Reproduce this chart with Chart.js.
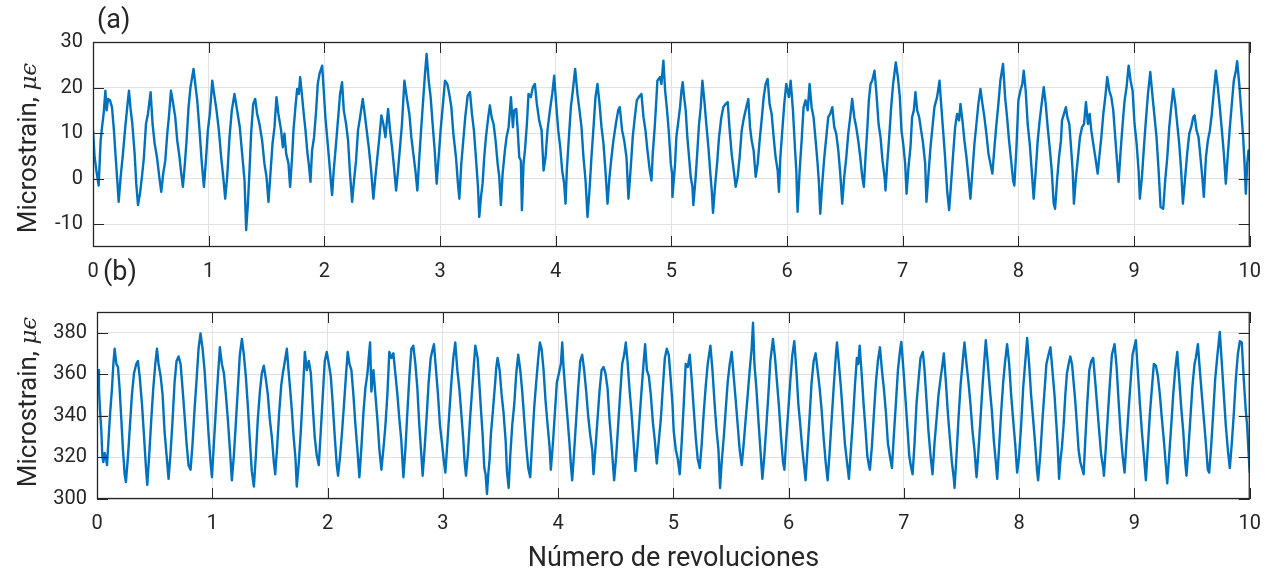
<!DOCTYPE html>
<html><head><meta charset="utf-8">
<script src="https://cdn.jsdelivr.net/npm/chart.js@4.4.1/dist/chart.umd.min.js"></script>
<style>
html,body{margin:0;padding:0;background:#fff;}
#wrap{position:relative;width:1274px;height:575px;overflow:hidden;font-family:Roboto,sans-serif;color:#262626;}
canvas{position:absolute;left:0;}
.lbl{position:absolute;font-size:27px;white-space:nowrap;line-height:1;}
.ylab{position:absolute;font-size:26px;white-space:nowrap;line-height:1;transform:translate(-50%,-50%) rotate(-90deg);}
.ylab i{font-family:'DejaVu Serif',serif;font-size:23px;}
</style></head><body>
<div id="wrap">
<canvas id="ca" width="1274" height="290" style="top:0"></canvas>
<canvas id="cb" width="1274" height="285" style="top:290px"></canvas>
<div class="lbl" style="left:97px;top:6px">(a)</div>
<div class="lbl" style="left:103px;top:258px">(b)</div>
<div class="ylab" style="left:27px;top:148px">Microstrain, <i>μϵ</i></div>
<div class="ylab" style="left:27px;top:402px">Microstrain, <i>μϵ</i></div>
</div>
<script>
// ---- Data: panel (a) ----
const revA = [
0.000,0.014,0.029,0.049,0.066,0.078,0.092,0.107,0.118,0.130,
0.147,0.164,0.181,0.196,0.210,0.222,0.239,0.259,0.279,0.296,
0.311,0.325,0.340,0.360,0.374,0.389,0.406,0.423,0.440,0.458,
0.475,0.498,0.515,0.533,0.553,0.573,0.590,0.607,0.625,0.642,
0.656,0.674,0.691,0.711,0.728,0.748,0.763,0.777,0.792,0.809,
0.826,0.843,0.869,0.884,0.901,0.921,0.941,0.959,0.976,0.993,
1.010,1.031,1.051,1.068,1.088,1.108,1.126,1.143,1.160,1.180,
1.200,1.223,1.246,1.269,1.292,1.310,1.324,1.339,1.353,1.367,
1.385,1.402,1.419,1.439,1.462,1.482,1.500,1.517,1.534,1.552,
1.569,1.586,1.603,1.626,1.641,1.655,1.670,1.690,1.704,1.721,
1.733,1.750,1.765,1.779,1.791,1.808,1.822,1.837,1.854,1.865,
1.880,1.894,1.911,1.929,1.943,1.958,1.981,1.995,2.009,2.024,
2.044,2.058,2.067,2.081,2.101,2.122,2.136,2.153,2.168,2.188,
2.205,2.222,2.240,2.254,2.274,2.291,2.309,2.332,2.349,2.366,
2.384,2.404,2.424,2.441,2.458,2.476,2.493,2.510,2.528,2.551,
2.568,2.585,2.602,2.620,2.637,2.654,2.671,2.692,2.712,2.735,
2.752,2.769,2.787,2.804,2.821,2.838,2.856,2.870,2.884,2.902,
2.919,2.936,2.954,2.971,2.988,3.005,3.023,3.043,3.063,3.080,
3.098,3.115,3.138,3.155,3.167,3.184,3.201,3.218,3.239,3.259,
3.276,3.293,3.310,3.328,3.339,3.354,3.368,3.382,3.397,3.417,
3.431,3.446,3.463,3.480,3.498,3.512,3.526,3.541,3.561,3.575,
3.593,3.613,3.630,3.641,3.659,3.670,3.685,3.699,3.708,3.722,
3.734,3.751,3.765,3.785,3.803,3.820,3.837,3.857,3.878,3.895,
3.912,3.929,3.950,3.970,3.987,4.004,4.022,4.039,4.056,4.073,
4.085,4.096,4.114,4.131,4.148,4.168,4.188,4.206,4.223,4.240,
4.258,4.275,4.292,4.309,4.327,4.344,4.361,4.379,4.396,4.413,
4.430,4.448,4.465,4.482,4.499,4.520,4.540,4.554,4.574,4.592,
4.612,4.629,4.649,4.666,4.684,4.701,4.718,4.741,4.759,4.776,
4.793,4.813,4.828,4.839,4.856,4.868,4.879,4.902,4.914,4.931,
4.946,4.960,4.977,4.995,5.006,5.009,5.023,5.032,5.043,5.061,
5.075,5.087,5.098,5.110,5.124,5.138,5.153,5.167,5.182,5.190,
5.210,5.225,5.239,5.254,5.268,5.285,5.302,5.320,5.337,5.349,
5.360,5.377,5.395,5.412,5.432,5.449,5.469,5.487,5.504,5.521,
5.539,5.556,5.573,5.590,5.608,5.628,5.648,5.665,5.680,5.694,
5.711,5.729,5.746,5.763,5.780,5.798,5.815,5.832,5.849,5.867,
5.884,5.901,5.919,5.930,5.942,5.959,5.976,5.993,6.016,6.031,
6.051,6.068,6.080,6.091,6.109,6.126,6.143,6.160,6.178,6.195,
6.212,6.229,6.247,6.264,6.276,6.287,6.304,6.322,6.339,6.356,
6.373,6.391,6.408,6.425,6.443,6.460,6.477,6.494,6.512,6.529,
6.546,6.563,6.581,6.598,6.615,6.633,6.650,6.664,6.678,6.693,
6.707,6.722,6.736,6.756,6.773,6.791,6.808,6.825,6.843,6.851,
6.866,6.883,6.900,6.917,6.940,6.958,6.975,6.989,7.004,7.021,
7.033,7.050,7.067,7.081,7.096,7.110,7.125,7.142,7.159,7.176,
7.194,7.205,7.223,7.240,7.257,7.274,7.297,7.318,7.332,7.349,
7.366,7.384,7.401,7.418,7.436,7.453,7.470,7.487,7.499,7.516,
7.533,7.551,7.568,7.585,7.603,7.620,7.637,7.654,7.672,7.689,
7.706,7.723,7.741,7.758,7.775,7.793,7.810,7.827,7.844,7.867,
7.885,7.902,7.919,7.937,7.954,7.965,7.983,8.000,8.017,8.034,
8.046,8.063,8.080,8.098,8.115,8.132,8.150,8.167,8.184,8.201,
8.219,8.236,8.253,8.270,8.288,8.305,8.317,8.334,8.351,8.368,
8.377,8.394,8.411,8.423,8.440,8.455,8.469,8.480,8.498,8.515,
8.532,8.550,8.567,8.584,8.601,8.616,8.630,8.647,8.665,8.685,
8.699,8.717,8.734,8.751,8.768,8.786,8.803,8.820,8.837,8.852,
8.866,8.884,8.901,8.918,8.935,8.953,8.970,8.987,9.004,9.022,
9.039,9.050,9.068,9.085,9.102,9.120,9.140,9.160,9.177,9.194,
9.212,9.229,9.252,9.269,9.287,9.304,9.321,9.338,9.356,9.373,
9.390,9.407,9.422,9.442,9.459,9.477,9.494,9.511,9.523,9.540,
9.557,9.574,9.592,9.603,9.621,9.638,9.655,9.672,9.690,9.707,
9.724,9.741,9.759,9.776,9.793,9.811,9.828,9.845,9.862,9.880,
9.891,9.909,9.926,9.943,9.955,9.966,9.978,9.989,10.000];
const strainA = [
10.6,4.7,1.8,-1.5,8.4,11.3,14.2,19.3,15.0,17.5,
17.2,15.7,10.6,4.7,-0.4,-5.1,0.4,5.5,11.3,15.7,
19.3,15.3,12.0,5.5,-1.1,-5.8,-3.3,0.4,4.7,12.0,
14.2,19.0,12.0,7.7,4.7,0.4,-2.9,1.1,4.0,9.9,
13.5,19.3,16.8,13.5,8.4,4.7,1.1,-1.8,2.6,8.4,
15.7,20.1,24.1,20.8,17.2,10.6,3.3,-1.8,4.0,10.6,
14.2,21.5,17.9,15.0,10.6,4.7,0.4,-4.4,0.4,9.1,
15.0,18.6,15.0,11.3,4.7,-0.4,-11.3,-5.5,1.8,9.9,
16.4,17.5,14.2,12.0,8.4,3.3,0.4,-5.1,1.1,7.7,
11.3,17.9,14.2,10.6,6.9,9.9,5.5,3.3,-1.8,4.7,
10.6,15.7,19.7,18.6,22.3,17.9,14.2,10.6,5.5,3.3,
-0.7,6.2,9.1,15.0,20.8,23.0,24.8,19.3,13.5,9.1,
3.3,-1.1,-3.6,1.8,7.7,14.2,18.6,21.2,15.0,12.0,
8.4,1.1,-5.1,-1.1,4.0,10.6,13.5,17.5,14.2,10.6,
6.9,1.8,-4.4,0.4,4.7,9.1,13.9,12.0,9.1,15.3,
10.6,6.9,2.6,-2.6,1.8,6.9,12.0,21.5,17.9,14.2,
9.1,5.5,1.8,-2.6,4.7,11.3,17.9,23.0,27.4,21.5,
17.9,12.0,6.2,-1.1,4.7,10.6,15.7,21.5,20.8,18.6,
15.7,9.9,4.7,-1.1,-4.4,3.3,8.4,13.5,18.2,19.0,
14.2,10.6,4.7,-1.8,-8.4,-4.0,-1.1,4.7,9.1,13.5,
16.1,13.5,12.0,8.4,3.3,0.4,-5.8,1.1,6.2,9.1,
11.3,17.9,11.3,15.0,15.3,11.3,4.7,4.0,-6.9,3.3,
6.2,12.0,18.6,17.9,20.1,20.8,16.4,12.8,10.6,1.8,
4.7,10.6,15.0,18.6,22.6,16.4,10.6,6.9,1.8,-1.1,
-5.5,1.8,9.1,15.7,19.3,24.1,18.6,15.0,11.3,4.7,
-0.4,-8.4,-2.6,4.7,11.3,17.9,20.8,16.4,11.3,7.7,
1.8,-5.5,0.4,4.7,8.4,12.0,15.0,15.7,10.6,8.4,
4.7,-4.4,2.6,9.1,13.5,17.2,17.9,18.6,13.5,10.6,
6.2,1.8,-0.4,5.5,11.3,16.4,21.5,22.3,20.8,25.9,
19.3,15.7,10.6,3.3,1.1,-4.0,0.4,3.3,9.1,12.8,
15.7,19.3,21.2,17.9,15.0,9.1,4.7,0.4,-1.8,-5.8,
0.4,6.2,12.0,15.7,21.5,17.2,12.0,6.9,1.1,-2.6,
-7.5,-1.8,3.3,9.1,13.5,15.7,16.4,16.8,10.6,5.5,
1.8,-1.8,0.4,4.7,10.6,13.5,15.7,17.5,11.3,8.4,
6.2,0.4,3.3,8.4,12.8,17.9,20.8,21.9,16.4,14.2,
9.1,4.7,1.8,-2.9,4.7,10.6,16.4,20.8,17.9,21.5,
15.0,6.9,1.8,-7.3,1.8,8.4,15.7,17.2,15.0,20.8,
15.7,13.5,8.4,3.3,-1.1,-7.7,-1.1,4.7,9.1,13.5,
14.2,15.7,11.3,9.9,6.2,1.1,-5.5,0.4,4.7,9.9,
13.5,17.5,13.5,11.3,8.4,4.7,0.4,-1.8,4.7,10.6,
17.2,20.8,21.5,23.7,18.6,12.0,9.1,4.0,0.4,-2.6,
3.3,9.1,15.7,20.8,25.5,22.3,17.9,10.6,7.7,3.3,
-3.3,2.6,6.9,13.5,15.0,19.0,15.0,13.5,10.6,7.7,
3.3,-5.1,1.1,6.9,11.3,15.7,17.9,21.5,16.4,10.6,
4.7,-2.6,-6.9,-1.1,5.5,11.3,14.2,12.8,16.4,12.8,
8.4,4.7,0.4,-4.4,1.8,7.7,12.0,16.4,19.7,16.4,
13.5,9.9,5.5,3.3,1.1,6.9,12.0,16.4,21.5,25.2,
17.9,13.5,8.4,4.0,-0.4,-1.5,6.9,17.2,19.3,20.8,
23.7,19.3,12.0,7.7,1.8,-4.4,1.8,8.4,12.8,16.4,
20.1,16.4,11.3,6.9,1.8,-5.5,-6.6,-0.4,4.7,8.4,
12.8,14.2,15.7,13.5,12.0,6.9,1.8,-5.5,0.4,4.7,
9.1,11.3,12.0,16.8,12.0,14.2,10.6,7.7,4.7,1.1,
4.7,9.1,14.2,17.9,22.3,19.3,17.9,15.0,9.1,4.0,
-0.7,6.2,12.0,17.2,20.1,24.8,21.5,19.3,12.0,7.7,
1.8,-4.4,0.4,6.9,12.8,18.6,23.4,17.9,13.5,9.1,
1.8,-6.2,-6.6,-0.4,4.7,11.3,15.7,19.7,16.4,12.0,
7.7,1.8,-5.5,0.4,5.5,9.9,11.3,13.5,13.9,10.6,
9.1,4.7,-0.4,-4.0,4.7,8.4,10.6,14.2,19.3,23.7,
20.1,15.7,10.6,5.5,-1.1,5.5,11.3,16.4,21.5,23.7,
25.8,20.8,15.0,9.1,3.3,-3.3,3.3,6.2,4.0];

// ---- Data: panel (b) ----
const revB = [
0.000,0.009,0.017,0.026,0.038,0.046,0.055,0.066,0.078,0.087,
0.101,0.116,0.130,0.142,0.153,0.168,0.182,0.196,0.211,0.225,
0.240,0.251,0.269,0.286,0.303,0.321,0.341,0.355,0.370,0.390,
0.407,0.425,0.436,0.454,0.471,0.488,0.506,0.520,0.534,0.552,
0.569,0.586,0.604,0.621,0.638,0.656,0.673,0.690,0.708,0.725,
0.742,0.760,0.777,0.794,0.812,0.829,0.846,0.864,0.881,0.898,
0.916,0.933,0.950,0.968,0.985,0.997,1.014,1.031,1.049,1.066,
1.083,1.101,1.118,1.135,1.153,1.170,1.187,1.205,1.222,1.239,
1.257,1.274,1.291,1.309,1.326,1.343,1.361,1.378,1.395,1.413,
1.430,1.447,1.465,1.482,1.499,1.517,1.534,1.546,1.563,1.580,
1.598,1.612,1.626,1.647,1.661,1.675,1.690,1.704,1.722,1.733,
1.751,1.768,1.785,1.803,1.820,1.837,1.855,1.872,1.889,1.907,
1.924,1.941,1.959,1.976,1.993,2.011,2.028,2.045,2.063,2.080,
2.091,2.109,2.126,2.143,2.161,2.175,2.190,2.207,2.224,2.242,
2.259,2.276,2.294,2.311,2.328,2.346,2.357,2.369,2.380,2.398,
2.415,2.432,2.450,2.467,2.484,2.502,2.519,2.536,2.554,2.571,
2.588,2.606,2.623,2.640,2.658,2.675,2.692,2.710,2.727,2.744,
2.762,2.779,2.796,2.814,2.825,2.843,2.860,2.877,2.895,2.906,
2.923,2.941,2.958,2.975,2.993,3.010,3.022,3.039,3.056,3.074,
3.091,3.108,3.126,3.143,3.160,3.178,3.189,3.201,3.218,3.236,
3.253,3.270,3.282,3.302,3.316,3.331,3.345,3.360,3.371,3.383,
3.394,3.406,3.417,3.435,3.452,3.464,3.475,3.493,3.510,3.527,
3.545,3.556,3.571,3.585,3.602,3.620,3.637,3.654,3.672,3.689,
3.706,3.724,3.741,3.758,3.776,3.793,3.810,3.828,3.842,3.857,
3.874,3.891,3.909,3.926,3.937,3.955,3.972,3.989,4.007,4.024,
4.036,4.047,4.065,4.082,4.099,4.111,4.122,4.140,4.157,4.174,
4.192,4.209,4.226,4.244,4.261,4.278,4.296,4.307,4.325,4.342,
4.359,4.377,4.394,4.411,4.429,4.446,4.463,4.486,4.504,4.521,
4.538,4.556,4.573,4.587,4.602,4.619,4.637,4.654,4.671,4.689,
4.706,4.723,4.741,4.755,4.770,4.787,4.804,4.822,4.839,4.856,
4.874,4.891,4.908,4.926,4.943,4.960,4.977,4.992,5.003,5.021,
5.038,5.055,5.073,5.090,5.107,5.125,5.142,5.159,5.177,5.194,
5.211,5.229,5.246,5.263,5.281,5.298,5.321,5.339,5.356,5.373,
5.391,5.405,5.419,5.437,5.454,5.471,5.489,5.506,5.523,5.541,
5.558,5.575,5.593,5.610,5.627,5.645,5.662,5.679,5.691,5.703,
5.720,5.737,5.755,5.772,5.789,5.807,5.824,5.841,5.864,5.882,
5.899,5.916,5.934,5.951,5.963,5.980,5.997,6.015,6.032,6.049,
6.067,6.084,6.101,6.119,6.136,6.147,6.165,6.182,6.199,6.217,
6.234,6.251,6.269,6.286,6.303,6.321,6.338,6.355,6.373,6.390,
6.408,6.419,6.436,6.454,6.471,6.488,6.506,6.523,6.540,6.558,
6.575,6.592,6.604,6.616,6.633,6.650,6.668,6.682,6.696,6.705,
6.722,6.740,6.757,6.774,6.792,6.809,6.826,6.844,6.861,6.878,
6.896,6.913,6.930,6.948,6.965,6.977,6.994,7.011,7.029,7.046,
7.063,7.075,7.092,7.109,7.127,7.144,7.164,7.179,7.196,7.213,
7.231,7.248,7.265,7.283,7.300,7.317,7.335,7.346,7.364,7.381,
7.398,7.416,7.433,7.439,7.456,7.473,7.491,7.508,7.525,7.543,
7.560,7.577,7.595,7.612,7.630,7.647,7.664,7.682,7.699,7.710,
7.728,7.745,7.762,7.780,7.797,7.809,7.826,7.843,7.861,7.878,
7.895,7.913,7.930,7.947,7.965,7.982,7.999,8.017,8.034,8.051,
8.069,8.086,8.103,8.121,8.138,8.155,8.164,8.184,8.202,8.219,
8.236,8.254,8.271,8.288,8.306,8.323,8.334,8.346,8.356,8.371,
8.385,8.400,8.414,8.429,8.443,8.458,8.472,8.486,8.501,8.515,
8.530,8.544,8.559,8.573,8.590,8.608,8.625,8.642,8.660,8.677,
8.694,8.712,8.729,8.735,8.752,8.770,8.787,8.804,8.827,8.845,
8.862,8.879,8.897,8.914,8.931,8.949,8.966,8.983,9.012,9.030,
9.047,9.064,9.082,9.099,9.116,9.134,9.151,9.168,9.186,9.203,
9.220,9.238,9.255,9.272,9.284,9.301,9.319,9.336,9.353,9.371,
9.388,9.405,9.423,9.440,9.451,9.469,9.486,9.503,9.521,9.532,
9.550,9.567,9.584,9.602,9.619,9.636,9.648,9.665,9.683,9.700,
9.717,9.740,9.758,9.775,9.792,9.810,9.827,9.844,9.862,9.879,
9.896,9.914,9.931,9.948,9.965,9.977,9.988,10.000];
const strainB = [
360.5,362.0,353.2,342.9,332.5,320.8,317.8,322.2,319.3,316.3,
329.6,342.9,353.2,365.0,372.3,365.0,363.5,353.2,338.4,323.7,
311.9,308.2,320.8,335.5,350.2,360.5,365.0,366.4,359.1,345.8,
331.1,314.9,306.8,322.2,338.4,353.2,365.0,372.3,365.0,359.1,
350.2,332.5,320.8,309.7,322.2,338.4,356.1,366.4,368.6,365.0,
353.2,339.9,326.7,316.3,314.1,326.7,342.9,357.6,372.3,379.7,
372.3,362.0,347.3,331.1,317.8,310.5,326.7,342.9,359.1,373.0,
365.0,360.5,350.2,338.4,323.7,309.0,320.8,337.0,353.2,369.4,
377.0,369.4,359.1,344.3,328.1,313.4,306.0,320.8,338.4,351.7,
360.5,364.2,357.6,350.2,338.4,329.6,317.8,311.9,325.2,341.4,
354.6,360.5,365.0,372.3,362.0,353.2,342.9,331.1,319.3,306.0,
317.8,332.5,350.2,370.8,362.0,366.4,360.5,344.3,329.6,320.8,
316.3,332.5,350.2,366.4,370.8,365.0,359.1,345.8,329.6,316.3,
311.2,320.8,332.5,345.8,360.5,370.8,365.0,362.0,350.2,335.5,
323.7,310.5,325.2,341.4,353.2,360.5,367.9,375.3,351.7,362.0,
350.2,338.4,323.7,314.1,323.7,335.5,350.2,370.8,367.9,370.1,
360.5,350.2,338.4,328.1,310.5,323.7,341.4,359.1,372.3,373.8,
365.0,353.2,335.5,320.8,311.2,325.2,339.9,356.1,367.9,370.8,
374.5,362.0,350.2,335.5,326.7,317.8,312.7,326.7,341.4,356.1,
367.9,375.3,362.0,353.2,341.4,328.1,317.8,311.2,322.2,338.4,
351.7,365.0,373.8,367.9,356.1,342.9,331.1,314.9,311.9,302.4,
311.9,319.3,331.1,342.9,354.6,363.5,367.9,362.0,350.2,341.4,
328.1,313.4,305.3,320.8,335.5,345.8,360.5,369.4,362.0,351.7,
338.4,325.2,314.9,310.5,328.1,344.3,356.1,367.9,375.3,372.3,
362.0,347.3,335.5,325.2,314.1,326.7,341.4,356.1,360.5,365.0,
375.3,363.5,350.2,338.4,326.7,316.3,309.0,323.7,338.4,353.2,
366.4,369.4,362.0,351.7,339.9,331.1,323.7,311.9,325.2,338.4,
351.7,362.0,363.5,360.5,353.2,338.4,326.7,309.0,320.8,335.5,
350.2,365.0,369.4,375.3,366.4,353.2,341.4,328.1,313.4,325.2,
338.4,351.7,365.0,374.5,362.0,359.1,350.2,337.0,328.1,317.1,
328.1,338.4,353.2,367.9,372.3,369.4,357.6,345.8,332.5,323.7,
319.3,311.9,328.1,345.8,365.0,363.5,369.4,357.6,342.9,329.6,
319.3,314.9,326.7,341.4,354.6,365.0,373.8,362.0,347.3,334.0,
323.7,305.3,317.8,329.6,342.9,356.1,365.0,370.8,359.1,347.3,
335.5,323.7,316.3,326.7,338.4,350.2,362.0,372.3,384.8,365.0,
353.2,338.4,323.7,309.7,320.8,335.5,350.2,366.4,377.0,367.9,
356.1,344.3,329.6,317.8,314.1,329.6,342.9,357.6,369.4,376.0,
362.0,345.8,335.5,323.7,314.9,309.0,325.2,339.9,356.1,366.4,
370.1,362.0,353.2,342.9,329.6,317.8,309.0,322.2,338.4,353.2,
367.9,375.3,365.0,353.2,339.9,326.7,317.8,309.7,323.7,338.4,
354.6,367.9,365.0,373.8,360.5,345.8,332.5,320.8,316.3,314.1,
325.2,341.4,356.1,366.4,373.0,362.0,353.2,341.4,326.7,320.8,
314.9,331.1,345.8,362.0,370.8,375.6,363.5,350.2,335.5,320.8,
314.9,311.9,326.7,345.8,357.6,367.9,370.8,362.0,347.3,332.5,
320.8,311.9,326.7,338.4,350.2,357.6,365.0,370.1,356.1,341.4,
329.6,317.8,309.7,305.3,320.8,338.4,354.6,365.0,375.3,365.0,
356.1,345.8,332.5,323.7,310.5,323.7,338.4,354.6,367.9,376.4,
365.0,353.2,342.9,328.1,317.8,309.7,325.2,341.4,356.1,366.4,
374.5,365.0,350.2,338.4,326.7,312.7,320.8,335.5,353.2,365.0,
377.5,365.0,350.2,338.4,326.7,313.4,309.0,322.2,338.4,351.7,
365.0,369.4,373.0,362.0,350.2,335.5,325.2,309.7,317.8,325.2,
335.5,350.2,360.5,365.0,368.6,365.0,356.1,347.3,335.5,323.7,
317.8,314.9,311.9,328.1,345.8,362.0,366.4,367.9,356.1,344.3,
332.5,320.8,314.9,311.2,325.2,341.4,356.1,369.4,374.5,363.5,
347.3,332.5,320.8,312.7,328.1,342.9,356.1,369.4,376.4,360.5,
345.8,332.5,320.8,309.0,325.2,341.4,353.2,365.0,364.2,359.1,
350.2,338.4,328.1,316.3,307.5,320.8,335.5,350.2,362.0,370.8,
357.6,344.3,332.5,317.8,311.2,325.2,339.9,354.6,365.0,367.9,
374.5,362.0,350.2,338.4,326.7,314.1,312.7,325.2,341.4,357.6,
367.9,380.4,365.0,350.2,335.5,323.7,314.9,326.7,341.4,357.6,
369.4,376.0,375.3,357.6,342.9,335.5,323.7,312.7];

// ---- Axis ticks ----
const xTicks = [0,1,2,3,4,5,6,7,8,9,10];
const yTicksA = [-10,0,10,20,30];
const yTicksB = [300,320,340,360,380];
const xLabel = 'Número de revoluciones';

Chart.defaults.font.family = 'Roboto';
Chart.defaults.color = '#262626';

const frame = {
  id: 'frame',
  afterDatasetsDraw(chart) {
    const {ctx, chartArea: a, scales: {x, y}} = chart;
    const L = 11;
    ctx.save();
    ctx.strokeStyle = '#262626';
    ctx.lineWidth = 1;
    ctx.beginPath();
    x.ticks.forEach(t => {
      const px = Math.round(x.getPixelForValue(t.value)) + 0.5;
      ctx.moveTo(px, a.bottom); ctx.lineTo(px, a.bottom - L);
      ctx.moveTo(px, a.top); ctx.lineTo(px, a.top + L);
    });
    y.ticks.forEach(t => {
      const py = Math.round(y.getPixelForValue(t.value)) + 0.5;
      ctx.moveTo(a.left, py); ctx.lineTo(a.left + L, py);
      ctx.moveTo(a.right, py); ctx.lineTo(a.right - L, py);
    });
    ctx.stroke();
    ctx.lineWidth = 1.3;
    ctx.strokeRect(a.left + 0.5, a.top + 0.5, a.right - a.left - 1, a.bottom - a.top - 1);
    ctx.restore();
  }
};

function makeChart(id, xs, ys, yMin, yMax, yTicks, opts) {
  const pts = xs.map((v, i) => ({x: v, y: ys[i]}));
  return new Chart(document.getElementById(id), {
    type: 'line',
    data: {datasets: [{data: pts, borderColor: '#0072BD', borderWidth: 2.4, pointRadius: 0, tension: 0, fill: false, borderJoinStyle: 'round'}]},
    options: {
      responsive: false, animation: false, devicePixelRatio: 1, parsing: false,
      layout: {padding: {left: 0, right: 23, top: opts.top, bottom: 0}},
      plugins: {legend: {display: false}, tooltip: {enabled: false}},
      scales: {
        x: {
          type: 'linear', min: 0, max: 10,
          afterBuildTicks: s => { s.ticks = xTicks.map(v => ({value: v})); },
          ticks: {font: {size: 20}, padding: 13, maxRotation: 0, autoSkip: false, color: '#262626'},
          grid: {color: '#e2e2e2', lineWidth: 1, drawTicks: false},
          border: {display: false},
          title: opts.xTitle ? {display: true, text: xLabel, font: {size: 27}, color: '#262626', padding: {top: 0, bottom: 0}} : {display: false},
          afterFit: s => { s.height = opts.xh; }
        },
        y: {
          type: 'linear', min: yMin, max: yMax,
          afterBuildTicks: s => { s.ticks = yTicks.map(v => ({value: v})); },
          ticks: {font: {size: 20}, padding: 10, color: '#262626'},
          grid: {color: '#e2e2e2', lineWidth: 1, drawTicks: false},
          border: {display: false},
          afterFit: s => { s.width = opts.yw; }
        }
      }
    },
    plugins: [frame]
  });
}

makeChart('ca', revA, strainA, -15, 30, yTicksA, {top: 42, xh: 43, yw: 93, xTitle: false});
makeChart('cb', revB, strainB, 300, 390, yTicksB, {top: 4, xh: 76, yw: 97, xTitle: true});
</script>
</body></html>
